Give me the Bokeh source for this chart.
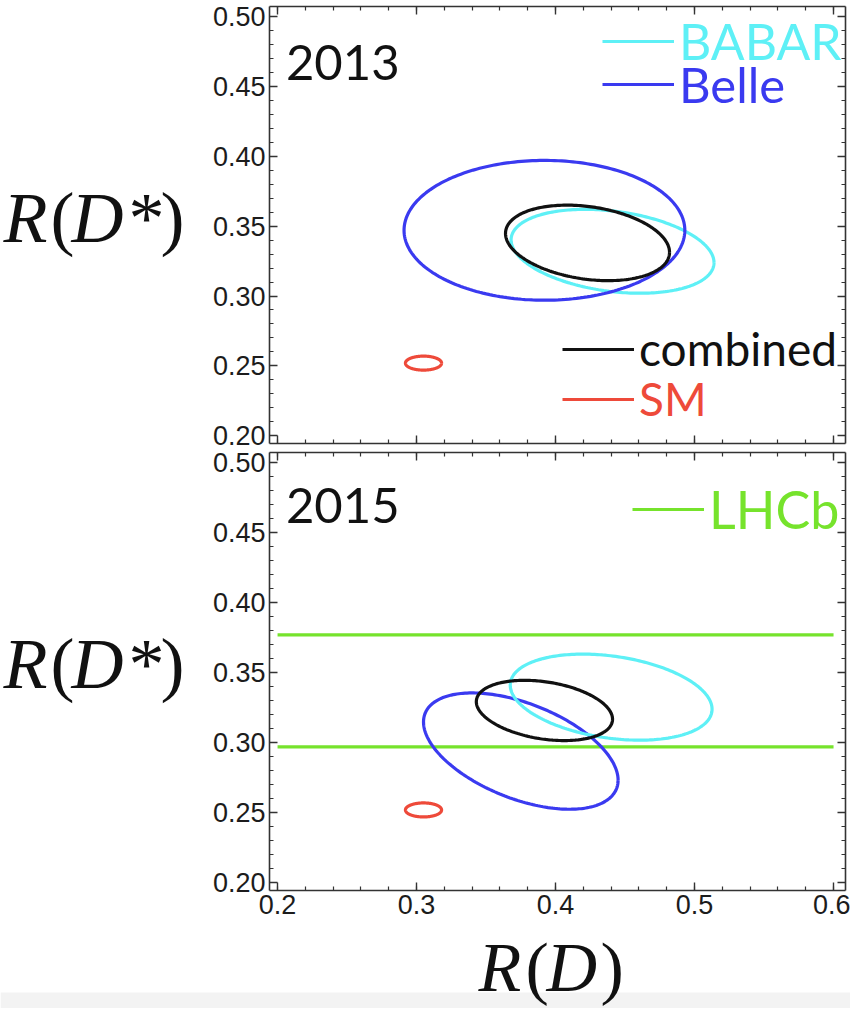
import numpy as np
from bokeh.plotting import figure
from bokeh.models import (Range1d, LinearAxis, SingleIntervalTicker, NumeralTickFormatter,
                          Label, Legend, LegendItem, BoxAnnotation)
from bokeh.layouts import column, row
from bokeh.embed import file_html
from bokeh.resources import INLINE

# ---------------- data ----------------
names = ["BABAR", "Belle", "combined", "SM"]
colors = ["#5ef0f6", "#3a3af0", "#111111", "#ee4a3a"]

# 2013 panel: centre, 1-sigma widths, correlation
rd_2013 = [0.441, 0.392, 0.423, 0.305]
rds_2013 = [0.332, 0.347, 0.338, 0.252]
rd_err_2013 = [0.073, 0.101, 0.059, 0.013]
rds_err_2013 = [0.030, 0.050, 0.027, 0.005]
rho_2013 = [-0.27, 0.0, -0.25, 0.0]

# 2015 panel
rd_2015 = [0.440, 0.375, 0.392, 0.305]
rds_2015 = [0.3325, 0.294, 0.323, 0.252]
rd_err_2015 = [0.0726, 0.070, 0.049, 0.013]
rds_err_2015 = [0.0307, 0.0415, 0.0215, 0.005]
rho_2015 = [-0.28, -0.50, -0.29, 0.0]

# LHCb R(D*) band (2015)
lhcb_rds = 0.337
lhcb_err = 0.040
lhcb_rd_span = [0.2, 0.6]
lhcb_color = "#76e32c"

x_ticks_interval = 0.1
y_ticks_interval = 0.05
XR = (0.1942, 0.6086)
YR = (0.1945, 0.5071)

LABEL_W = 185
PANEL_W = 850 - LABEL_W
SERIF = "Liberation Serif"


def contour(cx, cy, sx, sy, rho, n=240):
    t = np.linspace(0, 2 * np.pi, n)
    x = cx + sx * np.cos(t)
    y = cy + sy * (rho * np.cos(t) + np.sqrt(1 - rho ** 2) * np.sin(t))
    return x, y


AX_COL = "#333333"


def style_axis(ax, labels, fmt):
    ax.axis_line_color = AX_COL
    ax.axis_line_width = 1.6
    ax.major_tick_in = 8
    ax.major_tick_out = 0
    ax.minor_tick_in = 4
    ax.minor_tick_out = 0
    ax.major_tick_line_color = AX_COL
    ax.minor_tick_line_color = AX_COL
    ax.major_tick_line_width = 1.4
    ax.minor_tick_line_width = 1.2
    ax.formatter = NumeralTickFormatter(format=fmt)
    if labels:
        ax.major_label_text_font = "Liberation Sans"
        ax.major_label_text_font_size = "27px"
        ax.major_label_text_color = "#1c1c1c"
        ax.major_label_standoff = 4
    else:
        ax.major_label_text_font_size = "0px"
        ax.major_label_standoff = 0


def make_panel(height, top, bottom, x_labels):
    p = figure(width=PANEL_W, height=height, x_range=Range1d(*XR), y_range=Range1d(*YR),
               output_backend="svg", toolbar_location=None,
               x_axis_location=None, y_axis_location=None,
               min_border_left=277 - 8 - LABEL_W, min_border_right=5,
               min_border_top=top, min_border_bottom=bottom)
    p.grid.visible = False
    p.outline_line_color = None
    for loc, lab in (("left", True), ("right", False)):
        ax = LinearAxis(ticker=SingleIntervalTicker(interval=y_ticks_interval, num_minor_ticks=5))
        style_axis(ax, lab, "0.00")
        p.add_layout(ax, loc)
    for loc, lab in (("below", x_labels), ("above", False)):
        ax = LinearAxis(ticker=SingleIntervalTicker(interval=x_ticks_interval, num_minor_ticks=5))
        style_axis(ax, lab, "0.0")
        p.add_layout(ax, loc)
    return p


def math_text(f, parts, y, size):
    # parts: (text, left x in page pixels, italic?)
    for txt, x, ital in parts:
        f.add_layout(Label(x=x, y=y, text=txt, text_align="left", text_baseline="middle",
                           text_font=SERIF, text_font_style="italic" if ital else "normal",
                           text_font_size=size, text_color="#111111"))


def make_label_fig(height, top, bottom):
    f = figure(width=LABEL_W, height=height, x_range=Range1d(8, 8 + LABEL_W), y_range=Range1d(*YR),
               output_backend="svg", toolbar_location=None,
               x_axis_location=None, y_axis_location=None,
               min_border_left=0, min_border_right=0, min_border_top=top, min_border_bottom=bottom)
    f.grid.visible = False
    f.outline_line_color = None
    math_text(f, [("R", 11, True), ("(", 58, False), ("D", 79, True),
                  ("*", 136, False), (")", 168, False)], 0.356, "72px")
    return f


def add_legend(p, renderer, label, color, loc, size):
    lg = Legend(items=[LegendItem(label=label, renderers=[renderer])], location=loc,
                glyph_width=72, glyph_height=20, label_standoff=5, padding=0, margin=0,
                spacing=0, border_line_alpha=0, background_fill_alpha=0,
                label_text_font="Lato", label_text_font_size=size,
                label_text_color=color)
    p.add_layout(lg, "center")


# ---------------- top panel (2013) ----------------
H1, T1, B1 = 449, 6, 6
p1 = make_panel(H1, T1, B1, False)
rend1 = {}
for i in [0, 1, 2, 3]:
    x, y = contour(rd_2013[i], rds_2013[i], rd_err_2013[i], rds_err_2013[i], rho_2013[i])
    rend1[names[i]] = p1.line(x, y, line_color=colors[i], line_width=3.2)
p1.add_layout(Label(x=0.206, y=0.467, text="2013", text_font="Lato", text_font_size="49px",
                    text_color="#111111", text_baseline="alphabetic"))
add_legend(p1, rend1["BABAR"], "BABAR", colors[0], (333, 372), "50px")
add_legend(p1, rend1["Belle"], "Belle", colors[1], (333, 330), "49px")
add_legend(p1, rend1["combined"], "combined", colors[2], (293, 67), "46px")
add_legend(p1, rend1["SM"], "SM", colors[3], (293, 17), "46px")

# ---------------- bottom panel (2015) ----------------
H2, T2, B2 = 481, 3, 40
p2 = make_panel(H2, T2, B2, True)
lhcb_r = None
for s in (-1, 1):
    lhcb_r = p2.line(lhcb_rd_span, [lhcb_rds + s * lhcb_err] * 2, line_color=lhcb_color, line_width=3.2)
rend2 = {}
for i in [1, 0, 2, 3]:
    x, y = contour(rd_2015[i], rds_2015[i], rd_err_2015[i], rds_err_2015[i], rho_2015[i])
    rend2[names[i]] = p2.line(x, y, line_color=colors[i], line_width=3.2)
p2.add_layout(Label(x=0.206, y=0.4695, text="2015", text_font="Lato", text_font_size="49px",
                    text_color="#111111", text_baseline="alphabetic"))
add_legend(p2, lhcb_r, "LHCb", lhcb_color, (363, 350), "52px")

# ---------------- x-axis title strip ----------------
TOP3 = 8 + H1 + H2
H3 = 1016 - TOP3
f3 = figure(width=850, height=H3, x_range=Range1d(8, 858), y_range=Range1d(1016, TOP3),
            output_backend="svg", toolbar_location=None,
            x_axis_location=None, y_axis_location=None,
            min_border_left=0, min_border_right=0, min_border_top=0, min_border_bottom=0)
f3.grid.visible = False
f3.outline_line_color = None
f3.add_layout(BoxAnnotation(left=8, right=858, top=1000, bottom=1016, fill_color="#f3f3f3",
                            fill_alpha=1, line_color=None))
math_text(f3, [("R", 486, True), ("(", 533, False), ("D", 554, True), (")", 608, False)], 975, "70px")

layout = column(row(make_label_fig(H1, T1, B1), p1, spacing=0),
                row(make_label_fig(H2, T2, B2), p2, spacing=0),
                f3, spacing=0)
open("out.html", "w").write(file_html(layout, INLINE))
